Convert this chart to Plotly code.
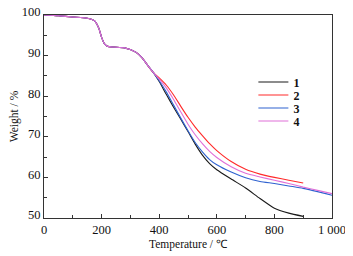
import plotly.graph_objects as go

temp_common = [0, 50, 100, 150, 175, 190, 200, 210, 220, 240, 280, 320, 340, 360, 380]
w_common = [100, 99.8, 99.5, 99.2, 98.6, 96.8, 94.5, 92.9, 92.3, 92.1, 91.9, 90.8, 89.5, 87.6, 85.8]

temp_tail = [400, 425, 450, 475, 500, 525, 550, 575, 600, 650, 700, 750, 800, 850, 900, 950, 1000]
w1_tail = [83.6, 80.4, 77.3, 74.3, 71.3, 68.2, 65.5, 63.4, 61.9, 59.6, 57.4, 54.8, 52.4, 51.2, 50.4]
w2_tail = [84.5, 82.7, 80.3, 77.5, 74.8, 72.4, 70.3, 68.3, 66.6, 63.9, 62.0, 60.8, 60.0, 59.3, 58.6]
w3_tail = [83.8, 81.0, 77.8, 74.6, 71.5, 68.6, 66.3, 64.4, 63.1, 61.3, 59.9, 59.0, 58.5, 57.9, 57.3, 56.5, 55.6]
w4_tail = [84.2, 82.0, 79.2, 76.1, 73.1, 70.5, 68.3, 66.4, 64.9, 62.6, 61.0, 60.1, 59.3, 58.5, 57.6, 56.8, 56.0]

names = ["1", "2", "3", "4"]
colors = ["#1a1a1a", "#ff2a2a", "#2f62d0", "#e070d8"]
tails = [w1_tail, w2_tail, w3_tail, w4_tail]
legend_ids = ["legend", "legend2", "legend3", "legend4"]
legend_y = [0.670, 0.606, 0.542, 0.478]

x_tickvals = [0, 200, 400, 600, 800, 1000]
x_ticktext = ["0", "200", "400", "600", "800", "1 000"]
y_tickvals = [50, 60, 70, 80, 90, 100]

fig = go.Figure()
for name, color, tail, lid in zip(names, colors, tails, legend_ids):
    x = temp_common + temp_tail[:len(tail)]
    y = w_common + tail
    fig.add_trace(go.Scatter(x=x, y=y, mode="lines", name=name, legend=lid,
                             line=dict(color=color, width=1.1, shape="spline", smoothing=0.6)))

font_family = '"Liberation Serif", "Times New Roman", Times, serif'
axis_common = dict(showline=True, linecolor="#333", linewidth=1, mirror=True, automargin=False,
                   ticks="inside", ticklen=4, tickcolor="#333", showgrid=False, zeroline=False,
                   ticklabeloverflow="allow",
                   tickfont=dict(family=font_family, size=12.5, color="#111"))

legend_style = dict(x=0.727, xanchor="left", yanchor="middle", bgcolor="rgba(0,0,0,0)",
                    font=dict(family=font_family, size=12, color="#111", weight="bold"),
                    itemwidth=30)
legends = {}
for lid, ly in zip(legend_ids, legend_y):
    legends[lid] = dict(y=ly, **legend_style)

fig.update_layout(
    width=345, height=248,
    margin=dict(l=36, r=21, t=7, b=38),
    plot_bgcolor="white", paper_bgcolor="white",
    font=dict(family=font_family, color="#111"),
    xaxis=dict(range=[0, 1000], tickvals=x_tickvals, ticktext=x_ticktext,
               minor=dict(ticks="inside", ticklen=3, dtick=100, tick0=0, tickcolor="#333"),
               title=dict(text="Temperature / ℃", font=dict(family=font_family, size=11.5), standoff=3),
               **axis_common),
    yaxis=dict(range=[50, 100], tickvals=y_tickvals, ticklabelshift=-3,
               minor=dict(ticks="inside", ticklen=3, dtick=5, tick0=50, tickcolor="#333"),
               title=dict(text="Weight / %", font=dict(family=font_family, size=11.5), standoff=3),
               **axis_common),
    showlegend=True,
    **legends,
)

fig.write_html("out.html")
